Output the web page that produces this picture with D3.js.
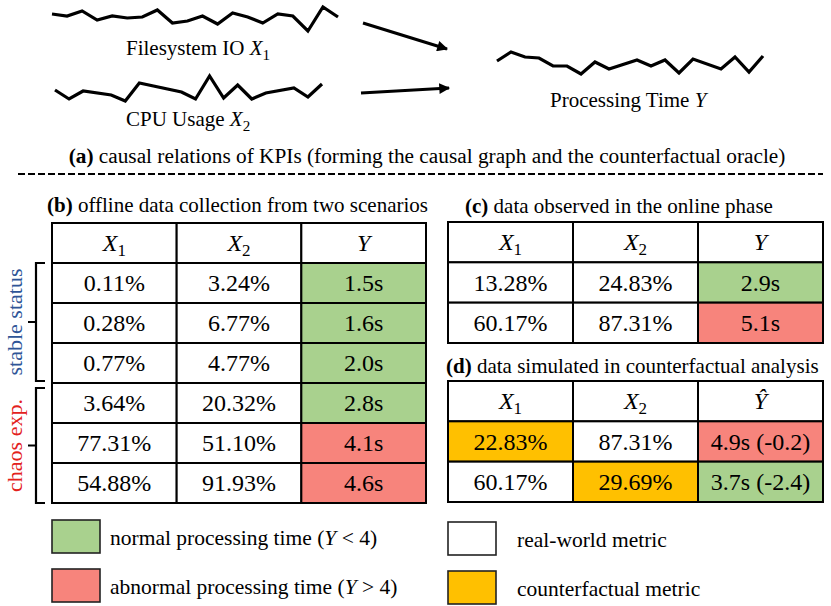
<!DOCTYPE html>
<html>
<head>
<meta charset="utf-8">
<script src="https://cdn.jsdelivr.net/npm/d3@7"></script>
<style>
  html, body { margin: 0; padding: 0; background: #fff; }
  .cell { stroke: #000; stroke-width: 2; }
  .cell-text { font-size: 24px; text-anchor: middle; fill: #000; }
  .title { font-size: 21px; }
  .legend-label { font-size: 21.5px; }
</style>
</head>
<body>
<script>
/*
 * Global parameters.
 */

const CANVAS_WIDTH = 831;
const CANVAS_HEIGHT = 606;
const FONT = '"Liberation Serif"';
const LABEL_SIZE = 21;

const GREEN = '#A9D18E';
const RED = '#F7847C';
const ORANGE = '#FFC000';
const THRESHOLD = 4;

/*
 * Data: KPI sparklines (time index and value).
 */

const fsIndex = [0, 1, 2, 3, 4, 5, 6, 7, 8, 9, 10, 11, 12, 13, 14, 15, 16, 17, 18, 19];
const fsValues = [21, 19, 24, 15, 19, 17, 18, 25, 12, 14, 19, 11, 22, 18, 12, 21, 19, 4, 28, 18];

const cpuIndex = [0, 1, 2, 4, 5, 6, 9, 10, 11, 12, 13, 14, 15, 17, 18, 19];
const cpuValues = [15, 6, 14, 10, 4, 22, 13, 6, 29, 7, 20, 6, 12, 17, 8, 21];

const ptIndex = [0, 1, 2, 3, 4, 5, 6, 7, 8, 10, 11, 12, 13, 14, 16, 17, 18, 19];
const ptValues = [19, 28, 23, 22, 14, 14, 6, 18, 11, 20, 14, 20, 7, 21, 11, 23, 8, 24];

/*
 * Data: tables.
 */

const columns = ['X1', 'X2', 'Y'];

// (b) offline data collection
const offlineX1 = [0.11, 0.28, 0.77, 3.64, 77.31, 54.88];
const offlineX2 = [3.24, 6.77, 4.77, 20.32, 51.10, 91.93];
const offlineY = [1.5, 1.6, 2.0, 2.8, 4.1, 4.6];
const scenarios = ['stable status', 'stable status', 'stable status',
                   'chaos exp.', 'chaos exp.', 'chaos exp.'];

// (c) data observed online
const onlineX1 = [13.28, 60.17];
const onlineX2 = [24.83, 87.31];
const onlineY = [2.9, 5.1];

// (d) counterfactual simulation
const simX1 = [22.83, 60.17];
const simX2 = [87.31, 29.69];
const simY = [4.9, 3.7];
const simDelta = [-0.2, -2.4];
const simCounterfactual = [['X1'], ['X2']];

// plain hyphen for minus, like the figure
const locale = d3.formatLocale({decimal: '.', thousands: ',', grouping: [3], currency: ['', ''], minus: '-'});
const fmtPct = d => locale.format('.2f')(d) + '%';
const fmtSec = d => locale.format('.1f')(d) + 's';
const fmtDelta = d => locale.format('.1f')(d);
const yColor = d => d < THRESHOLD ? GREEN : RED;

const svg = d3.select('body')
  .append('svg')
    .attr('width', CANVAS_WIDTH)
    .attr('height', CANVAS_HEIGHT);

/*
 * Panel (a): sparklines and arrows.
 */

const plotSparkline = (index, values, xRange, yRange) => {
  const x = d3.scaleLinear().domain([0, 19]).range(xRange);
  const y = d3.scaleLinear().domain([0, 35]).range(yRange);
  const line = d3.line()
      .x(d => x(d[0]))
      .y(d => y(d[1]));
  svg.append('path')
      .datum(d3.zip(index, values))
      .attr('d', line)
      .attr('fill', 'none')
      .attr('stroke', '#000')
      .attr('stroke-width', 3.2)
      .attr('stroke-linejoin', 'miter');
};

plotSparkline(fsIndex, fsValues, [52, 338], [35, 0]);
plotSparkline(cpuIndex, cpuValues, [55, 322], [105, 70]);
plotSparkline(ptIndex, ptValues, [497, 763], [80, 45]);

svg.append('defs')
  .append('marker')
    .attr('id', 'arrow')
    .attr('viewBox', '0 0 10 10')
    .attr('refX', 9)
    .attr('refY', 5)
    .attr('markerWidth', 4)
    .attr('markerHeight', 3.6)
    .attr('markerUnits', 'strokeWidth')
    .attr('orient', 'auto')
  .append('path')
    .attr('d', 'M0,0 L10,5 L0,10 z')
    .attr('fill', '#000');

const arrows = [[363, 23, 447, 49], [361, 93, 449, 88]];
svg.selectAll('.arrow')
  .data(arrows)
  .enter()
  .append('line')
    .attr('class', 'arrow')
    .attr('x1', d => d[0])
    .attr('y1', d => d[1])
    .attr('x2', d => d[2])
    .attr('y2', d => d[3])
    .attr('stroke', '#000')
    .attr('stroke-width', 3)
    .attr('marker-end', 'url(#arrow)');

// adds a label like "Filesystem IO X1" with an italic math symbol
const addMathLabel = (x, y, text, sym, sub, size) => {
  const t = svg.append('text')
      .attr('x', x)
      .attr('y', y)
      .style('font-size', size + 'px');
  t.append('tspan').text(text);
  t.append('tspan').style('font-style', 'italic').text(sym);
  if (sub) {
    t.append('tspan')
        .attr('dy', size * 0.22)
        .style('font-size', (size * 0.72) + 'px')
        .text(sub);
  }
  return t;
};

addMathLabel(126, 55, 'Filesystem IO ', 'X', '1', LABEL_SIZE);
addMathLabel(126, 126, 'CPU Usage ', 'X', '2', LABEL_SIZE);
addMathLabel(550, 107, 'Processing Time ', 'Y', null, LABEL_SIZE);

svg.append('text')
    .attr('x', 427)
    .attr('y', 163)
    .attr('text-anchor', 'middle')
    .style('font-size', '21.3px')
    .call(t => {
      t.append('tspan').style('font-weight', 'bold').text('(a)');
      t.append('tspan').text(' causal relations of KPIs (forming the causal graph and the counterfactual oracle)');
    });

svg.append('line')
    .attr('x1', 18)
    .attr('x2', 823)
    .attr('y1', 174)
    .attr('y2', 174)
    .attr('stroke', '#000')
    .attr('stroke-width', 2)
    .attr('stroke-dasharray', '7,3');

/*
 * Tables.
 */

const addTitle = (x, y, tag, text) => {
  svg.append('text')
      .attr('class', 'title')
      .attr('x', x)
      .attr('y', y)
      .call(t => {
        t.append('tspan').style('font-weight', 'bold').text(tag);
        t.append('tspan').text(' ' + text);
      });
};

// rows: array of {X1, X2, Y} objects with label and fill
const plotTable = (rows, headers, xRange, yRange) => {
  const x = d3.scaleBand().domain(columns).range(xRange);
  const y = d3.scaleBand().domain(d3.range(rows.length + 1)).range(yRange);
  const g = svg.append('g');

  // header cells
  const head = g.selectAll('.head')
    .data(columns)
    .enter()
    .append('g')
      .attr('class', 'head');
  head.append('rect')
      .attr('class', 'cell')
      .attr('x', d => x(d))
      .attr('y', y(0))
      .attr('width', x.bandwidth())
      .attr('height', y.bandwidth())
      .attr('fill', '#fff');
  head.append('text')
      .attr('class', 'cell-text')
      .attr('x', d => x(d) + x.bandwidth() / 2)
      .attr('y', y(0) + y.bandwidth() / 2 + 8)
      .each(function (d) {
        const [sym, sub] = headers[d];
        const t = d3.select(this);
        t.append('tspan').style('font-style', 'italic').text(sym);
        if (sub) {
          t.append('tspan')
              .attr('dy', 5)
              .style('font-size', '17px')
              .text(sub);
        }
      });

  // body cells
  const cells = rows.flatMap((r, i) => columns.map(c => ({row: i + 1, col: c, ...r[c]})));
  const body = g.selectAll('.body')
    .data(cells)
    .enter()
    .append('g')
      .attr('class', 'body');
  body.append('rect')
      .attr('class', 'cell')
      .attr('x', d => x(d.col))
      .attr('y', d => y(d.row))
      .attr('width', x.bandwidth())
      .attr('height', y.bandwidth())
      .attr('fill', d => d.fill);
  body.append('text')
      .attr('class', 'cell-text')
      .attr('x', d => x(d.col) + x.bandwidth() / 2)
      .attr('y', d => y(d.row) + y.bandwidth() / 2 + 8)
      .text(d => d.label);

  return y;
};

const plainHeaders = {X1: ['X', '1'], X2: ['X', '2'], Y: ['Y', null]};
const hatHeaders = {X1: ['X', '1'], X2: ['X', '2'], Y: ['\u0176', null]};

// (b)
addTitle(47, 212, '(b)', 'offline data collection from two scenarios');
const offlineRows = offlineX1.map((v, i) => ({
  X1: {label: fmtPct(v), fill: '#fff'},
  X2: {label: fmtPct(offlineX2[i]), fill: '#fff'},
  Y: {label: fmtSec(offlineY[i]), fill: yColor(offlineY[i])}
}));
const yB = plotTable(offlineRows, plainHeaders, [52, 426], [223, 503]);

// scenario brackets
const groups = d3.groups(scenarios.map((s, i) => ({s, row: i + 1})), d => d.s);
const groupColor = {'stable status': '#2F5597', 'chaos exp.': '#E3211C'};
groups.forEach(([name, items], gi) => {
  const top = yB(items[0].row) + (gi === 0 ? 0 : 5);
  const bottom = yB(items[items.length - 1].row) + yB.bandwidth() - (gi === 0 ? 2 : 0);
  const mid = (top + bottom) / 2;
  svg.append('path')
      .attr('d', `M45,${top} L36,${top} L36,${bottom} L45,${bottom} M36,${mid} L28,${mid}`)
      .attr('fill', 'none')
      .attr('stroke', '#000')
      .attr('stroke-width', 2.2);
  svg.append('text')
      .attr('transform', `translate(22, ${mid}) rotate(-90)`)
      .attr('text-anchor', 'middle')
      .style('font-size', '22px')
      .attr('fill', groupColor[name])
      .text(name);
});

// (c)
addTitle(465, 213, '(c)', 'data observed in the online phase');
const onlineRows = onlineX1.map((v, i) => ({
  X1: {label: fmtPct(v), fill: '#fff'},
  X2: {label: fmtPct(onlineX2[i]), fill: '#fff'},
  Y: {label: fmtSec(onlineY[i]), fill: yColor(onlineY[i])}
}));
plotTable(onlineRows, plainHeaders, [448, 823], [222, 343]);

// (d)
addTitle(446, 373, '(d)', 'data simulated in counterfactual analysis');
const simRows = simX1.map((v, i) => ({
  X1: {label: fmtPct(v), fill: simCounterfactual[i].includes('X1') ? ORANGE : '#fff'},
  X2: {label: fmtPct(simX2[i]), fill: simCounterfactual[i].includes('X2') ? ORANGE : '#fff'},
  Y: {label: `${fmtSec(simY[i])} (${fmtDelta(simDelta[i])})`, fill: yColor(simY[i])}
}));
plotTable(simRows, hatHeaders, [448, 823], [381, 502]);

/*
 * Legend.
 */

const legendItems = [
  {x: 52, y: 520, fill: GREEN, text: ['normal processing time (', 'Y', ' < 4)']},
  {x: 52, y: 569, fill: RED, text: ['abnormal processing time (', 'Y', ' > 4)']},
  {x: 448, y: 522, fill: '#fff', text: ['real-world metric']},
  {x: 448, y: 571, fill: ORANGE, text: ['counterfactual metric']}
];

const legend = svg.selectAll('.legend-cell')
  .data(legendItems)
  .enter()
  .append('g')
    .attr('class', 'legend-cell')
    .attr('transform', d => `translate(${d.x}, ${d.y})`);

legend.append('rect')
    .attr('width', 48)
    .attr('height', 33)
    .attr('fill', d => d.fill)
    .attr('stroke', '#222')
    .attr('stroke-width', 1.6);

legend.append('text')
    .attr('class', 'legend-label')
    .attr('x', d => d.x < 100 ? 58 : 69)
    .attr('y', 25)
    .each(function (d) {
      const t = d3.select(this);
      d.text.forEach((s, i) => {
        t.append('tspan')
            .style('font-style', i === 1 ? 'italic' : 'normal')
            .text(s);
      });
    });

// serif font on every label and span, set inline
svg.selectAll('text, tspan').style('font-family', FONT);
</script>
</body>
</html>
